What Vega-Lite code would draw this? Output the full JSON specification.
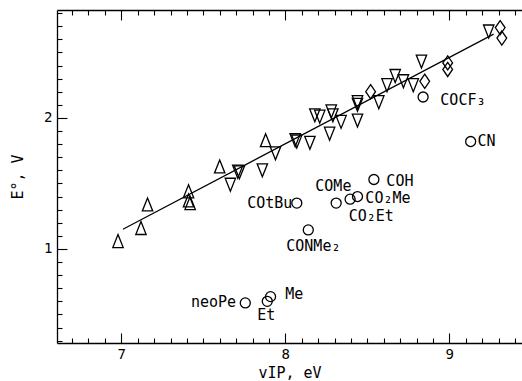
{
  "$schema": "https://vega.github.io/schema/vega-lite/v6.json",
  "width": 465,
  "height": 333,
  "autosize": {"type": "none"},
  "padding": {"left": 57, "top": 10, "right": 0, "bottom": 38},
  "background": "white",
  "config": {"view": {"stroke": null}, "font": "DejaVu Sans Mono"},
  "datasets": {
    "fit": [{"vip": 7.01, "e": 1.15}, {"vip": 9.27, "e": 2.64}],
    "pts": [
      {"vip": 6.98, "e": 1.06, "type": "up"},
      {"vip": 7.12, "e": 1.16, "type": "up"},
      {"vip": 7.16, "e": 1.34, "type": "up"},
      {"vip": 7.41, "e": 1.44, "type": "up"},
      {"vip": 7.41, "e": 1.37, "type": "up"},
      {"vip": 7.42, "e": 1.35, "type": "up"},
      {"vip": 7.60, "e": 1.63, "type": "up"},
      {"vip": 7.88, "e": 1.83, "type": "up"},
      {"vip": 7.665, "e": 1.49, "type": "down"},
      {"vip": 7.71, "e": 1.59, "type": "down"},
      {"vip": 7.72, "e": 1.585, "type": "down"},
      {"vip": 7.86, "e": 1.60, "type": "down"},
      {"vip": 7.94, "e": 1.73, "type": "down"},
      {"vip": 8.06, "e": 1.83, "type": "down"},
      {"vip": 8.07, "e": 1.82, "type": "down"},
      {"vip": 8.15, "e": 1.81, "type": "down"},
      {"vip": 8.18, "e": 2.02, "type": "down"},
      {"vip": 8.21, "e": 2.01, "type": "down"},
      {"vip": 8.28, "e": 2.05, "type": "down"},
      {"vip": 8.29, "e": 2.02, "type": "down"},
      {"vip": 8.34, "e": 1.97, "type": "down"},
      {"vip": 8.27, "e": 1.88, "type": "down"},
      {"vip": 8.44, "e": 2.12, "type": "down"},
      {"vip": 8.44, "e": 2.10, "type": "down"},
      {"vip": 8.44, "e": 1.98, "type": "down"},
      {"vip": 8.57, "e": 2.12, "type": "down"},
      {"vip": 8.62, "e": 2.25, "type": "down"},
      {"vip": 8.67, "e": 2.32, "type": "down"},
      {"vip": 8.72, "e": 2.28, "type": "down"},
      {"vip": 8.78, "e": 2.25, "type": "down"},
      {"vip": 8.83, "e": 2.43, "type": "down"},
      {"vip": 9.24, "e": 2.66, "type": "down"},
      {"vip": 8.52, "e": 2.20, "type": "diamond"},
      {"vip": 8.85, "e": 2.28, "type": "diamond"},
      {"vip": 8.99, "e": 2.42, "type": "diamond"},
      {"vip": 8.99, "e": 2.37, "type": "diamond"},
      {"vip": 9.31, "e": 2.69, "type": "diamond"},
      {"vip": 9.32, "e": 2.61, "type": "diamond"},
      {"vip": 7.756, "e": 0.588, "type": "circle"},
      {"vip": 7.89, "e": 0.60, "type": "circle"},
      {"vip": 7.91, "e": 0.636, "type": "circle"},
      {"vip": 8.07, "e": 1.35, "type": "circle"},
      {"vip": 8.14, "e": 1.145, "type": "circle"},
      {"vip": 8.31, "e": 1.35, "type": "circle"},
      {"vip": 8.395, "e": 1.38, "type": "circle"},
      {"vip": 8.44, "e": 1.40, "type": "circle"},
      {"vip": 8.54, "e": 1.53, "type": "circle"},
      {"vip": 8.84, "e": 2.16, "type": "circle"},
      {"vip": 9.13, "e": 1.82, "type": "circle"}
    ],
    "labels_left": [
      {"vip": 8.00, "e": 0.656, "label": "Me"},
      {"vip": 8.488, "e": 1.389, "label": "CO₂Me"},
      {"vip": 8.616, "e": 1.519, "label": "COH"},
      {"vip": 8.945, "e": 2.137, "label": "COCF₃"},
      {"vip": 9.171, "e": 1.824, "label": "CN"}
    ],
    "labels_right": [
      {"vip": 7.70, "e": 0.595, "label": "neoPe"},
      {"vip": 8.043, "e": 1.351, "label": "COtBu"}
    ],
    "labels_center": [
      {"vip": 7.884, "e": 0.496, "label": "Et"},
      {"vip": 8.171, "e": 1.02, "label": "CONMe₂"},
      {"vip": 8.293, "e": 1.481, "label": "COMe"},
      {"vip": 8.524, "e": 1.252, "label": "CO₂Et"}
    ]
  },
  "layer": [
    {
      "data": {"name": "fit"},
      "mark": {"type": "line", "color": "black", "strokeWidth": 1.2},
      "encoding": {
        "x": {
          "field": "vip", "type": "quantitative",
          "scale": {"domain": [6.608, 9.443], "nice": false, "zero": false},
          "axis": {
            "orient": "bottom", "values": [7, 8, 9], "format": "d",
            "labelOverlap": false, "labelFlush": false, "labelBound": false,
            "grid": false, "tickSize": -10, "tickColor": "black", "tickWidth": 1.1,
            "domainColor": "black", "domainWidth": 1.3,
            "labelColor": "black", "labelFont": "DejaVu Sans Mono", "labelFontSize": 14, "labelPadding": 14,
            "title": "vIP, eV", "titleFont": "DejaVu Sans Mono", "titleFontSize": 15, "titleFontWeight": "normal", "titleColor": "black", "titlePadding": 4
          }
        },
        "y": {
          "field": "e", "type": "quantitative",
          "scale": {"domain": [0.282, 2.824], "nice": false, "zero": false},
          "axis": {
            "orient": "left", "values": [1, 2], "format": "d",
            "labelOverlap": false, "labelFlush": false, "labelBound": false,
            "grid": false, "tickSize": -10, "tickColor": "black", "tickWidth": 1.1,
            "domainColor": "black", "domainWidth": 1.3,
            "labelColor": "black", "labelFont": "DejaVu Sans Mono", "labelFontSize": 14, "labelPadding": 15,
            "title": "E°, V", "titleFont": "DejaVu Sans Mono", "titleFontSize": 15, "titleFontWeight": "normal", "titleColor": "black", "titlePadding": 18
          }
        }
      }
    },
    {
      "data": {"name": "pts"},
      "mark": {"type": "point", "filled": false, "stroke": "black", "strokeWidth": 1.3, "opacity": 1},
      "encoding": {
        "x": {
          "field": "vip", "type": "quantitative",
          "scale": {"domain": [6.608, 9.443], "nice": false, "zero": false},
          "axis": {
            "orient": "bottom",
            "values": [6.7,6.8,6.9,7.1,7.2,7.3,7.4,7.5,7.6,7.7,7.8,7.9,8.1,8.2,8.3,8.4,8.5,8.6,8.7,8.8,8.9,9.1,9.2,9.3,9.4],
            "labels": false, "title": null, "grid": false, "domain": false,
            "tickSize": -5, "tickColor": "black", "tickWidth": 1.1
          }
        },
        "y": {
          "field": "e", "type": "quantitative",
          "scale": {"domain": [0.282, 2.824], "nice": false, "zero": false},
          "axis": {
            "orient": "left",
            "values": [0.3,0.4,0.5,0.6,0.7,0.8,0.9,1.1,1.2,1.3,1.4,1.5,1.6,1.7,1.8,1.9,2.1,2.2,2.3,2.4,2.5,2.6,2.7,2.8],
            "labels": false, "title": null, "grid": false, "domain": false,
            "tickSize": -5, "tickColor": "black", "tickWidth": 1.1
          }
        },
        "shape": {
          "field": "type", "type": "nominal",
          "scale": {
            "domain": ["up", "down", "diamond", "circle"],
            "range": [
              "M0,-1L0.8,1L-0.8,1Z",
              "M0,1L0.8,-1L-0.8,-1Z",
              "M0,-1.08L0.75,0L0,1.08L-0.75,0Z",
              "M0.77,0A0.77,0.77,0,1,1,-0.77,0A0.77,0.77,0,1,1,0.77,0Z"
            ]
          },
          "legend": null
        },
        "size": {"value": 169}
      }
    },
    {
      "data": {"name": "labels_left"},
      "mark": {"type": "text", "align": "left", "baseline": "middle", "font": "DejaVu Sans Mono", "fontSize": 15, "color": "black"},
      "encoding": {
        "x": {
          "field": "vip", "type": "quantitative",
          "scale": {"domain": [6.608, 9.443], "nice": false, "zero": false},
          "axis": {
            "orient": "top", "values": [7, 8, 9],
            "labels": false, "title": null, "grid": false,
            "tickSize": -10, "tickColor": "black", "tickWidth": 1.1,
            "domainColor": "black", "domainWidth": 1.3
          }
        },
        "y": {"field": "e", "type": "quantitative", "scale": {"domain": [0.282, 2.824], "nice": false, "zero": false}, "axis": null},
        "text": {"field": "label", "type": "nominal"}
      }
    },
    {
      "data": {"name": "labels_right"},
      "mark": {"type": "text", "align": "right", "baseline": "middle", "font": "DejaVu Sans Mono", "fontSize": 15, "color": "black"},
      "encoding": {
        "x": {
          "field": "vip", "type": "quantitative",
          "scale": {"domain": [6.608, 9.443], "nice": false, "zero": false},
          "axis": {
            "orient": "top",
            "values": [6.7,6.8,6.9,7.1,7.2,7.3,7.4,7.5,7.6,7.7,7.8,7.9,8.1,8.2,8.3,8.4,8.5,8.6,8.7,8.8,8.9,9.1,9.2,9.3,9.4],
            "labels": false, "title": null, "grid": false, "domain": false,
            "tickSize": -5, "tickColor": "black", "tickWidth": 1.1
          }
        },
        "y": {"field": "e", "type": "quantitative", "scale": {"domain": [0.282, 2.824], "nice": false, "zero": false}, "axis": null},
        "text": {"field": "label", "type": "nominal"}
      }
    },
    {
      "data": {"name": "labels_center"},
      "mark": {"type": "text", "align": "center", "baseline": "middle", "font": "DejaVu Sans Mono", "fontSize": 15, "color": "black"},
      "encoding": {
        "x": {"field": "vip", "type": "quantitative", "scale": {"domain": [6.608, 9.443], "nice": false, "zero": false}, "axis": null},
        "y": {"field": "e", "type": "quantitative", "scale": {"domain": [0.282, 2.824], "nice": false, "zero": false}, "axis": null},
        "text": {"field": "label", "type": "nominal"}
      }
    }
  ],
  "resolve": {"axis": {"x": "independent", "y": "independent"}}
}
